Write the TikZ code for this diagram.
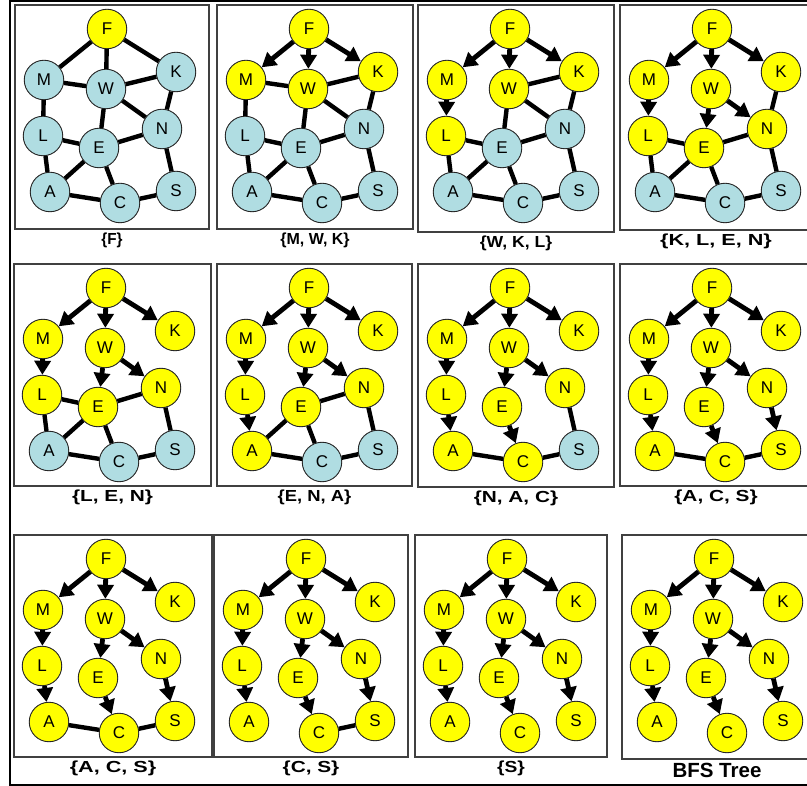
\documentclass[tikz,border=0pt]{standalone}
\usepackage{graphicx}
\usepackage{fontspec}
\setmainfont{Liberation Sans}
\usetikzlibrary{arrows.meta}
\definecolor{visyel}{HTML}{FFFF00}
\definecolor{unvis}{HTML}{B0DDE2}
\tikzset{
  vtx/.style={circle,draw=black!85,line width=0.9pt,minimum size=39.5pt,inner sep=0pt,
    font=\fontsize{17}{17}\selectfont},
  edge/.style={line width=4.4pt,black},
  treearrow/.style={line width=4.8pt,black,-{Triangle[length=14pt,width=16pt]}},
  panelbox/.style={draw=black!75,line width=1.1pt},
  setlabel/.style={font=\bfseries\fontsize{16}{16}\selectfont},
  biglabel/.style={font=\bfseries\fontsize{20.5}{20.5}\selectfont}
}
\newcommand\wlab[2]{\scalebox{#1}[1]{#2}}
\makeatletter
\newcommand\bfspanel[8]{%
  \begin{scope}[shift={(#2,#3)}]
    \draw[panelbox] (0,0) rectangle (#4,#5);
    \foreach \n/\px/\py in {F/92/24,M/29/75,W/91/84,K/161/67,L/28/131,E/84/143,N/147/124,A/35/187,C/105/198,S/161/186}{%
      \edef\tmpcheck{\noexpand\in@{\n}{#7}}\tmpcheck
      \ifin@
        \node[vtx,fill=visyel] (#1\n) at (\px,\py) {\n};
      \else
        \node[vtx,fill=unvis] (#1\n) at (\px,\py) {\n};
      \fi
    }
    \node[#8] (#1lab) at (#4/2,#5+11) {#6};
  \end{scope}}
\makeatother
\begin{document}
\begin{tikzpicture}[x=1pt,y=-1pt]
\useasboundingbox (0,0) rectangle (807,786);
\clip (0,0) rectangle (807,786);
\fill[white] (0,0) rectangle (807,786);
\draw[line width=2pt] (812,1) -- (10,1) -- (10,785) -- (812,785);
% row 1
\bfspanel{pa}{15}{5}{194}{224}{\wlab{0.95}{\{F\}}}{F}{setlabel}
\foreach \a/\b in {F/M,F/W,F/K,M/W,W/K,M/L,W/E,W/N,K/N,L/E,E/N,L/A,E/A,E/C,A/C,C/S,N/S}
  \draw[edge] (pa\a) -- (pa\b);
\bfspanel{pb}{217}{5}{196}{224}{\wlab{1.0}{\{M, W, K\}}}{FMWK}{setlabel}
\foreach \a/\b in {F/M,F/W,F/K} \draw[treearrow] (pb\a) -- (pb\b);
\foreach \a/\b in {M/W,W/K,M/L,W/E,W/N,K/N,L/E,E/N,L/A,E/A,E/C,A/C,C/S,N/S}
  \draw[edge] (pb\a) -- (pb\b);
\bfspanel{pc}{418}{5}{196}{227}{\wlab{1.1}{\{W, K, L\}}}{FMWKL}{setlabel}
\foreach \a/\b in {F/M,F/W,F/K,M/L} \draw[treearrow] (pc\a) -- (pc\b);
\foreach \a/\b in {W/K,W/E,W/N,K/N,L/E,E/N,L/A,E/A,E/C,A/C,C/S,N/S}
  \draw[edge] (pc\a) -- (pc\b);
\bfspanel{pd}{620}{5}{192}{225}{\wlab{1.35}{\{K, L, E, N\}}}{FMWKLEN}{setlabel}
\foreach \a/\b in {F/M,F/W,F/K,M/L,W/E,W/N} \draw[treearrow] (pd\a) -- (pd\b);
\foreach \a/\b in {K/N,L/E,E/N,L/A,E/A,E/C,A/C,C/S,N/S}
  \draw[edge] (pd\a) -- (pd\b);
% row 2
\bfspanel{pe}{14}{264}{197}{222}{\wlab{1.3}{\{L, E, N\}}}{FMWKLEN}{setlabel}
\foreach \a/\b in {F/M,F/W,F/K,M/L,W/E,W/N} \draw[treearrow] (pe\a) -- (pe\b);
\foreach \a/\b in {L/E,E/N,L/A,E/A,E/C,A/C,C/S,N/S}
  \draw[edge] (pe\a) -- (pe\b);
\bfspanel{pf}{217}{264}{195}{222}{\wlab{1.15}{\{E, N, A\}}}{FMWKLENA}{setlabel}
\foreach \a/\b in {F/M,F/W,F/K,M/L,W/E,W/N,L/A} \draw[treearrow] (pf\a) -- (pf\b);
\foreach \a/\b in {E/N,E/A,E/C,A/C,C/S,N/S}
  \draw[edge] (pf\a) -- (pf\b);
\bfspanel{pg}{418}{264}{196}{223}{\wlab{1.3}{\{N, A, C\}}}{FMWKLENAC}{setlabel}
\foreach \a/\b in {F/M,F/W,F/K,M/L,W/E,W/N,L/A,E/C} \draw[treearrow] (pg\a) -- (pg\b);
\foreach \a/\b in {A/C,C/S,N/S}
  \draw[edge] (pg\a) -- (pg\b);
\bfspanel{ph}{620}{264}{192}{222}{\wlab{1.3}{\{A, C, S\}}}{FMWKLENACS}{setlabel}
\foreach \a/\b in {F/M,F/W,F/K,M/L,W/E,W/N,L/A,E/C,N/S} \draw[treearrow] (ph\a) -- (ph\b);
\foreach \a/\b in {A/C,C/S}
  \draw[edge] (ph\a) -- (ph\b);
% row 3
\bfspanel{pi}{14}{535}{198}{222}{\wlab{1.35}{\{A, C, S\}}}{FMWKLENACS}{setlabel}
\foreach \a/\b in {F/M,F/W,F/K,M/L,W/E,W/N,L/A,E/C,N/S} \draw[treearrow] (pi\a) -- (pi\b);
\foreach \a/\b in {A/C,C/S}
  \draw[edge] (pi\a) -- (pi\b);
\bfspanel{pj}{214}{535}{194}{222}{\wlab{1.3}{\{C, S\}}}{FMWKLENACS}{setlabel}
\foreach \a/\b in {F/M,F/W,F/K,M/L,W/E,W/N,L/A,E/C,N/S} \draw[treearrow] (pj\a) -- (pj\b);
\draw[edge] (pjC) -- (pjS);
\bfspanel{pk}{415}{535}{192}{222}{\wlab{1.2}{\{S\}}}{FMWKLENACS}{setlabel}
\foreach \a/\b in {F/M,F/W,F/K,M/L,W/E,W/N,L/A,E/C,N/S} \draw[treearrow] (pk\a) -- (pk\b);
\bfspanel{pl}{622}{535}{190}{224}{BFS Tree}{FMWKLENACS}{biglabel}
\foreach \a/\b in {F/M,F/W,F/K,M/L,W/E,W/N,L/A,E/C,N/S} \draw[treearrow] (pl\a) -- (pl\b);
\end{tikzpicture}
\end{document}
